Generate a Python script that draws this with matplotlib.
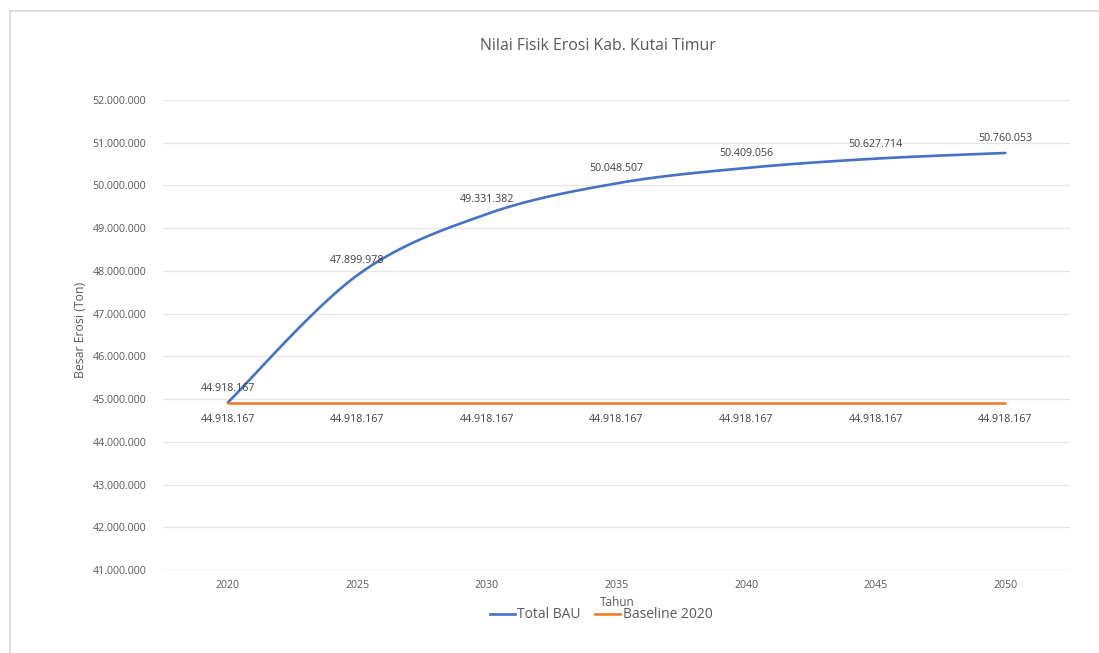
import numpy as np
import matplotlib.pyplot as plt
from matplotlib.lines import Line2D

tahun = ['2020', '2025', '2030', '2035', '2040', '2045', '2050']
total_bau = [44918167, 47899978, 49331382, 50048507, 50409056, 50627714, 50760053]
baseline_2020 = [44918167, 44918167, 44918167, 44918167, 44918167, 44918167, 44918167]

BLUE = '#4472C4'
ORANGE = '#ED7D31'
TXT = '#595959'
LBL = '#404040'

plt.rcParams['font.family'] = ['Open Sans', 'DejaVu Sans']


def fmt(v):
    return f'{v:,.0f}'.replace(',', '.')


def smooth(x, y, n=40):
    # bezier segments with control points from neighbouring points (spreadsheet-style smoothing)
    x = np.asarray(x, float)
    y = np.asarray(y, float)
    px = np.concatenate([[x[0]], x, [x[-1]]])
    py = np.concatenate([[y[0]], y, [y[-1]]])
    xs, ys = [], []
    t = np.linspace(0, 1, n)
    for i in range(len(x) - 1):
        p0 = np.array([px[i + 1], py[i + 1]])
        p3 = np.array([px[i + 2], py[i + 2]])
        c1 = p0 + (np.array([px[i + 2], py[i + 2]]) - np.array([px[i], py[i]])) / 6
        c2 = p3 - (np.array([px[i + 3], py[i + 3]]) - np.array([px[i + 1], py[i + 1]])) / 6
        b = ((1 - t) ** 3)[:, None] * p0 + (3 * (1 - t) ** 2 * t)[:, None] * c1 \
            + (3 * (1 - t) * t ** 2)[:, None] * c2 + (t ** 3)[:, None] * p3
        xs.extend(b[:, 0])
        ys.extend(b[:, 1])
    return np.array(xs), np.array(ys)


fig = plt.figure(figsize=(10.99, 6.53), dpi=100)
ax = fig.add_axes([163 / 1099, 1 - 570 / 653, (1070 - 163) / 1099, (570 - 100) / 653])

idx = np.arange(len(tahun))
# y-scale is ~1e6 vs x ~1, so smooth in normalised units
sy = 1e6 * 7 / 11 * (570 - 100) / (1070 - 163)
sx, syv = smooth(idx, np.array(total_bau) / sy)
ax.plot(sx, syv * sy, color=BLUE, lw=1.9, solid_capstyle='round', zorder=3)
ax.plot(idx, baseline_2020, color=ORANGE, lw=1.9, solid_capstyle='round', zorder=3)

for i, v in enumerate(total_bau):
    ax.annotate(fmt(v), (i, v), xytext=(0, 6.5), textcoords='offset points',
                ha='center', va='bottom', fontsize=7.7, color=LBL, zorder=4)
for i, v in enumerate(baseline_2020):
    ax.annotate(fmt(v), (i, v), xytext=(0, -8.5), textcoords='offset points',
                ha='center', va='top', fontsize=7.7, color=LBL, zorder=4)

ax.set_xlim(-0.5, len(tahun) - 0.5)
ax.set_ylim(41000000, 52000000)
ax.set_yticks(np.arange(41000000, 52000001, 1000000))
ax.set_yticklabels([fmt(v) for v in ax.get_yticks()])
ax.set_xticks(idx)
ax.set_xticklabels(tahun)
ax.tick_params(length=0, labelsize=7.7, colors=TXT)
ax.tick_params(axis='x', pad=7)
ax.tick_params(axis='y', pad=12)
ax.grid(axis='y', color='#E6E6E6', lw=0.9)
ax.set_axisbelow(True)
for s in ax.spines.values():
    s.set_visible(False)
ax.axhline(41000000, color='#D9D9D9', lw=0.9, zorder=1)

fig.text(598 / 1099, 1 - 46 / 653, 'Nilai Fisik Erosi Kab. Kutai Timur', ha='center', va='center',
         fontsize=11.4, color=TXT)
fig.text(80 / 1099, 1 - 330 / 653, 'Besar Erosi (Ton)', rotation=90, ha='center', va='center',
         fontsize=8.8, color=TXT)
fig.text(617 / 1099, 1 - 602 / 653, 'Tahun', ha='center', va='center', fontsize=8.5, color=TXT)

handles = [Line2D([], [], color=BLUE, lw=1.9), Line2D([], [], color=ORANGE, lw=1.9)]
fig.legend(handles, ['Total BAU', 'Baseline 2020'], loc='center', ncol=2,
           bbox_to_anchor=(601 / 1099, 1 - 615 / 653), frameon=False, fontsize=10,
           labelcolor=TXT, handlelength=1.8, handletextpad=0.2, columnspacing=1.0)

# outer frame of the chart area
fig.add_artist(Line2D([10 / 1099, 10 / 1099], [0, 1 - 11 / 653], color='#D9D9D9', lw=1.2))
fig.add_artist(Line2D([10 / 1099, 1], [1 - 11 / 653, 1 - 11 / 653], color='#D9D9D9', lw=1.2))

fig.savefig('out.png', dpi=100)
